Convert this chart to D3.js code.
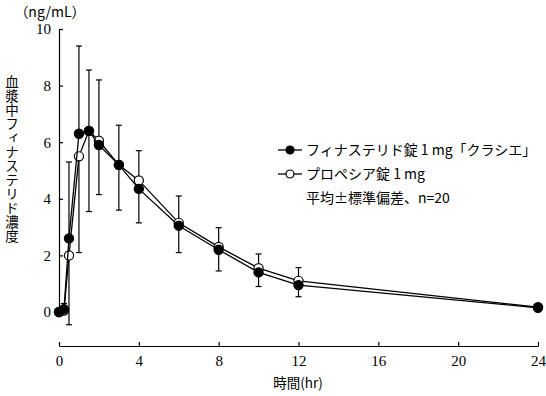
<!DOCTYPE html>
<html>
<head>
<meta charset="utf-8">
<script src="https://cdn.jsdelivr.net/npm/d3@7"></script>
<style>
  body { margin: 0; background: #fff; }
  svg { display: block; }
  .tick text { font-family: "Liberation Serif", "Times New Roman", serif !important; }
</style>
</head>
<body>
<div id="chart"></div>
<script>
// sampling times (hr)
const times = [0, 0.25, 0.5, 1, 1.5, 2, 3, 4, 6, 8, 10, 12, 24];
// mean plasma finasteride (ng/mL)
const kracie = [0, 0.1, 2.6, 6.3, 6.4, 5.9, 5.2, 4.35, 3.05, 2.2, 1.4, 0.95, 0.15];
const propecia = [0, 0.05, 2.0, 5.5, 6.4, 6.05, 5.2, 4.65, 3.15, 2.3, 1.55, 1.1, 0.17];
// SD, drawn upward for kracie and downward for propecia
const kracieSD = [0, 0.2, 2.7, 3.1, 2.15, 2.3, 1.4, 1.35, 1.05, 0.78, 0.65, 0.62, 0.12];
const propeciaSD = [0, 0.05, 2.45, 3.4, 2.85, 1.9, 1.6, 1.5, 1.05, 0.85, 0.65, 0.56, 0.12];

const xTicks = [0, 4, 8, 12, 16, 20, 24];
const yTicks = [0, 2, 4, 6, 8, 10];

const JP = "'Noto Sans CJK JP', sans-serif";

const W = 546, H = 396;
const svg = d3.select("#chart").append("svg").attr("width", W).attr("height", H);

const x = d3.scaleLinear().domain([0, 24]).range([59, 538]);
const y = d3.scaleLinear().domain([0, 10]).range([312, 29]);
const xAxisY = 346;

// y axis, ticks point inward
const yAx = svg.append("g")
  .attr("transform", `translate(${x(0)},0)`)
  .call(d3.axisLeft(y).tickValues(yTicks).tickSizeInner(-4).tickSizeOuter(0).tickPadding(8));
yAx.selectAll("text").attr("font-size", "15px").attr("fill", "#000");
yAx.selectAll("line, path").attr("stroke", "#000").attr("stroke-width", 1.2);

// x axis, detached below the plot
const xAx = svg.append("g")
  .attr("transform", `translate(0,${xAxisY})`)
  .call(d3.axisBottom(x).tickValues(xTicks).tickSizeInner(-4).tickSizeOuter(0).tickPadding(9));
xAx.selectAll("text").attr("font-size", "15px").attr("fill", "#000");
xAx.selectAll("line, path").attr("stroke", "#000").attr("stroke-width", 1.2);

svg.append("text").attr("font-family", JP)
  .attr("x", 298).attr("y", 388).attr("text-anchor", "middle")
  .attr("font-size", "13.5px").text("時間(hr)");

svg.append("text").attr("font-family", JP)
  .attr("x", 50).attr("y", 17).attr("text-anchor", "middle")
  .attr("font-size", "14px").text("（ng/mL）");

// vertical y title
svg.append("text").attr("font-family", JP)
  .attr("x", 12).attr("y", 75)
  .attr("font-size", "13.5px")
  .attr("letter-spacing", "0.5px")
  .style("writing-mode", "vertical-rl")
  .style("text-orientation", "upright")
  .text("血漿中フィナステリド濃度");

// error bars
const cap = 3;
const bars = svg.append("g").attr("stroke", "#000").attr("stroke-width", 1.2);
times.forEach((t, i) => {
  if (kracieSD[i] > 0) {
    const y0 = y(kracie[i]), y1 = y(kracie[i] + kracieSD[i]);
    bars.append("line").attr("x1", x(t)).attr("x2", x(t)).attr("y1", y0).attr("y2", y1);
    bars.append("line").attr("x1", x(t) - cap).attr("x2", x(t) + cap).attr("y1", y1).attr("y2", y1);
  }
  if (propeciaSD[i] > 0) {
    const y0 = y(propecia[i]), y1 = y(propecia[i] - propeciaSD[i]);
    bars.append("line").attr("x1", x(t)).attr("x2", x(t)).attr("y1", y0).attr("y2", y1);
    bars.append("line").attr("x1", x(t) - cap).attr("x2", x(t) + cap).attr("y1", y1).attr("y2", y1);
  }
});

const line = d3.line().x((d) => x(d[0])).y((d) => y(d[1]));

function series(vals, fill) {
  const pts = times.map((t, i) => [t, vals[i]]);
  const g = svg.append("g");
  g.append("path").datum(pts).attr("d", line)
    .attr("fill", "none").attr("stroke", "#000").attr("stroke-width", 1.3);
  g.selectAll("circle").data(pts).join("circle")
    .attr("cx", (d) => x(d[0])).attr("cy", (d) => y(d[1])).attr("r", 4.6)
    .attr("fill", fill).attr("stroke", "#000").attr("stroke-width", 1.2);
}
series(propecia, "#fff");
series(kracie, "#000");

// legend
const legend = [
  { label: "フィナステリド錠 1 mg「クラシエ」", fill: "#000" },
  { label: "プロペシア錠 1 mg", fill: "#fff" },
];
const lg = svg.append("g").attr("transform", "translate(278,150)");
legend.forEach((d, i) => {
  const row = lg.append("g").attr("transform", `translate(0,${i * 24})`);
  row.append("line").attr("x1", 0).attr("x2", 24).attr("stroke", "#000").attr("stroke-width", 1.3);
  row.append("circle").attr("cx", 12).attr("r", 4).attr("fill", d.fill).attr("stroke", "#000").attr("stroke-width", 1.2);
  row.append("text").attr("font-family", JP).attr("x", 28).attr("dy", "0.36em")
    .attr("font-size", "14px").text(d.label);
});
lg.append("text").attr("font-family", JP).attr("x", 28).attr("y", 48).attr("dy", "0.36em")
  .attr("font-size", "14px").text("平均±標準偏差、n=20");
</script>
</body>
</html>
